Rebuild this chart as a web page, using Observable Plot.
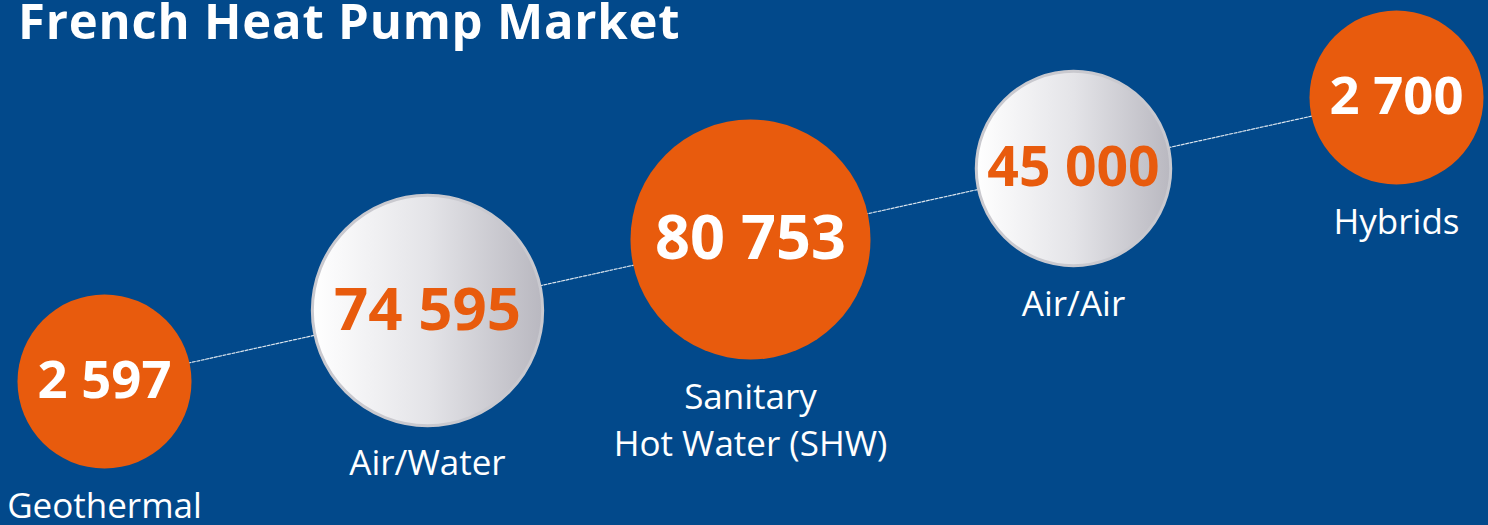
<!DOCTYPE html>
<html><head><meta charset="utf-8">
<script src="https://cdn.jsdelivr.net/npm/d3@7"></script>
<script src="https://cdn.jsdelivr.net/npm/@observablehq/plot@0.6"></script>
<style>
html,body{margin:0;padding:0;background:#02498b;width:1488px;height:525px;overflow:hidden}
#wrap{position:relative;width:1488px;height:525px}
#wrap svg{position:absolute;left:0;top:0}
h1{position:absolute;left:18px;top:-4px;margin:0;font-family:"Open Sans",sans-serif;font-weight:700;font-size:49px;letter-spacing:0.8px;line-height:1;color:#fff;z-index:2;white-space:nowrap}
</style></head><body>
<div id="wrap"><h1>French Heat Pump Market</h1></div>
<script>
// Data
const categories = ["Geothermal", "Air/Water", "Sanitary\nHot Water (SHW)", "Air/Air", "Hybrids"];
const values = [2597, 74595, 80753, 45000, 2700];
const valueLabels = ["2 597", "74 595", "80 753", "45 000", "2 700"];

const data = categories.map((c, i) => ({category: c, value: values[i], label: valueLabels[i], i}));
const ORANGE = "#e85b0d";
const isOrange = d => d.i % 2 === 0;
const isSilver = d => d.i % 2 === 1;

const rOpts = {type: "pow", exponent: 2, domain: [2597, 80753], range: [87, 120]};
const rScale = Plot.scale({r: rOpts});
const font = "'Open Sans', sans-serif";
const numSize = d => 30 + 0.26 * rScale.apply(d.value);

const labelMarks = data.map(d => Plot.text([d], {
  x: "category", y: "category", text: "category",
  dy: rScale.apply(d.value) + 17, lineAnchor: "top",
  fill: "white", fontSize: 35, fontFamily: font, lineHeight: 1.32
}));

const svg = Plot.plot({
  width: 1488, height: 525,
  marginLeft: 103, marginRight: 92, marginTop: 96, marginBottom: 144,
  x: {type: "point", domain: categories, padding: 0, axis: null},
  y: {type: "point", domain: [...categories].reverse(), padding: 0, axis: null},
  r: rOpts,
  style: {background: "transparent", overflow: "visible"},
  marks: [
    Plot.line(data, {x: "category", y: "category", stroke: "white", strokeWidth: 1.2, strokeDasharray: "3,1.5", strokeOpacity: 0.85}),
    Plot.dot(data, {filter: isOrange, x: "category", y: "category", r: "value", fill: ORANGE, stroke: "none"}),
    Plot.dot(data, {filter: isSilver, x: "category", y: "category", r: "value", fill: "url(#silver)", stroke: "#c9c9cf", strokeWidth: 3}),
    Plot.text(data, {filter: isOrange, x: "category", y: "category", text: "label", fill: "white", fontWeight: 700, fontFamily: font, fontSize: numSize}),
    Plot.text(data, {filter: isSilver, x: "category", y: "category", text: "label", fill: ORANGE, fontWeight: 700, fontFamily: font, fontSize: numSize}),
    ...labelMarks
  ]
});

const defs = d3.select(svg).insert("defs", ":first-child");
const g = defs.append("linearGradient").attr("id", "silver").attr("x1", 0).attr("x2", 1).attr("y1", 0).attr("y2", 0);
g.append("stop").attr("offset", "0%").attr("stop-color", "#ffffff");
g.append("stop").attr("offset", "50%").attr("stop-color", "#e4e4e8");
g.append("stop").attr("offset", "100%").attr("stop-color", "#b9b8c0");

document.getElementById("wrap").appendChild(svg);
</script>
</body></html>
